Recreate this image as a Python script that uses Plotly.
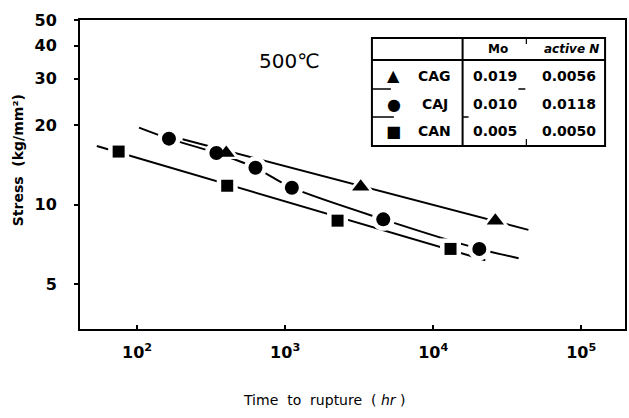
import plotly.graph_objects as go

# ---- data ----
cag_t = [400, 3240, 26300]
cag_s = [15.7, 11.7, 8.7]
caj_t = [164, 343, 630, 1110, 4600, 20500]
caj_s = [17.8, 15.7, 13.8, 11.6, 8.8, 6.8]
can_t = [75, 406, 2260, 13100]
can_s = [15.9, 11.8, 8.7, 6.8]

# fitted lines (drawn through the data)
cag_fit_t = [203, 44000]
cag_fit_s = [17.7, 8.03]
caj_fit_t = [103, 164, 343, 630, 1110, 4600, 20500, 37800]
caj_fit_s = [19.6, 17.8, 15.7, 13.8, 11.6, 8.8, 6.8, 6.27]
can_fit_t = [53.4, 22500]
can_fit_s = [16.7, 6.16]

y_ticks = [5, 10, 20, 30, 40, 50]
x_ticks = [100, 1000, 10000, 100000]
x_tick_text = ["10<sup>2</sup>", "10<sup>3</sup>", "10<sup>4</sup>", "10<sup>5</sup>"]

table_header = ["", "Mo", "active N"]
table_rows = [
    ["▲", "CAG", "0.019", "0.0056"],
    ["●", "CAJ", "0.010", "0.0118"],
    ["■", "CAN", "0.005", "0.0050"],
]

W, H = 629, 418
ML, MR, MT, MB = 80, 2, 20, 89
PW, PH = W - ML - MR, H - MT - MB


def px(x):
    return (x - ML) / PW


def py(y):
    return (H - MB - y) / PH


FONT = "DejaVu Sans"
fig = go.Figure()

line_style = dict(color="black", width=2)
fig.add_trace(go.Scatter(x=cag_fit_t, y=cag_fit_s, mode="lines", line=line_style, showlegend=False))
fig.add_trace(go.Scatter(x=caj_fit_t, y=caj_fit_s, mode="lines",
                         line=dict(color="black", width=2, shape="spline", smoothing=0.8), showlegend=False))
fig.add_trace(go.Scatter(x=can_fit_t, y=can_fit_s, mode="lines", line=line_style, showlegend=False))

series = [
    (cag_t, cag_s, "triangle-up", 15),
    (caj_t, caj_s, "circle", 14),
    (can_t, can_s, "square", 12),
]
# white halos produce the gaps of the line around each symbol
for t, s, sym, size in series:
    fig.add_trace(go.Scatter(x=t, y=s, mode="markers", showlegend=False,
                             marker=dict(symbol=sym, size=size + 9, color="white", line=dict(width=0))))
for t, s, sym, size in series:
    fig.add_trace(go.Scatter(x=t, y=s, mode="markers", showlegend=False,
                             marker=dict(symbol=sym, size=size, color="black", line=dict(width=0))))

axis_common = dict(showline=True, linecolor="black", linewidth=2, mirror=True,
                   showgrid=False, zeroline=False, tickcolor="black", ticklen=4, tickwidth=2,
                   tickfont=dict(family=FONT, size=16, color="black", weight="bold"))
fig.update_xaxes(type="log", range=[1.614, 5.296], tickvals=x_ticks, ticktext=x_tick_text,
                 ticks="inside", ticklabelstandoff=8, **axis_common)
fig.update_yaxes(type="log", range=[0.529, 1.700], tickvals=y_ticks, ticktext=[str(v) for v in y_ticks],
                 ticks="outside", ticklabelstandoff=14, **axis_common)

shapes = []
# table frame
tx0, tx1, ty0, ty1 = 373, 607, 38, 146
shapes.append(dict(type="rect", xref="paper", yref="paper", x0=px(tx0), x1=px(tx1), y0=py(ty1), y1=py(ty0),
                   line=dict(color="black", width=2), fillcolor="white", layer="below"))
shapes.append(dict(type="line", xref="paper", yref="paper", x0=px(tx0), x1=px(tx1), y0=py(60), y1=py(60),
                   line=dict(color="black", width=2)))
shapes.append(dict(type="line", xref="paper", yref="paper", x0=px(464), x1=px(464), y0=py(ty1), y1=py(ty0),
                   line=dict(color="black", width=2)))
# faint partial separators seen in the scan
for yy, xa, xb in [(89, 373, 392), (89, 520, 527), (117, 373, 395), (117, 464, 470)]:
    shapes.append(dict(type="line", xref="paper", yref="paper", x0=px(xa), x1=px(xb), y0=py(yy), y1=py(yy),
                       line=dict(color="black", width=1.5)))
for ya, yb in [(38, 44), (139, 146)]:
    shapes.append(dict(type="line", xref="paper", yref="paper", x0=px(528), x1=px(528), y0=py(ya), y1=py(yb),
                       line=dict(color="black", width=1.2)))

ann = []


def add_text(txt, x, y, font, angle=0):
    ann.append(dict(text=txt, x=px(x), y=py(y), xref="paper", yref="paper", showarrow=False,
                    xanchor="center", yanchor="middle", textangle=angle, font=font))


tfont = dict(family=FONT, size=12, color="black", weight="bold")
add_text(table_header[1], 500, 49, tfont)
add_text("<i>" + table_header[2] + "</i>", 573, 49, tfont)
row_y = [76, 104, 131]
col_x = [395, 436, 497, 571]
for r, yy in zip(table_rows, row_y):
    for j, (txt, xx) in enumerate(zip(r, col_x)):
        f = dict(family=FONT, size=14 if j else 16, color="black", weight="bold")
        add_text(txt, xx, yy, f)

add_text("500℃", 290, 61, dict(family=FONT, size=20, color="black"))
add_text("Time  to  rupture  ( <i>hr</i> )", 325, 400, dict(family=FONT, size=14, color="black"))
add_text("Stress  (kg/mm²)", 18, 160, dict(family=FONT, size=14, color="black", weight="bold"), angle=-90)

fig.update_layout(width=W, height=H, margin=dict(l=ML, r=MR, t=MT, b=MB),
                  paper_bgcolor="white", plot_bgcolor="white", showlegend=False,
                  shapes=shapes, annotations=ann)
fig.write_html("out.html")
